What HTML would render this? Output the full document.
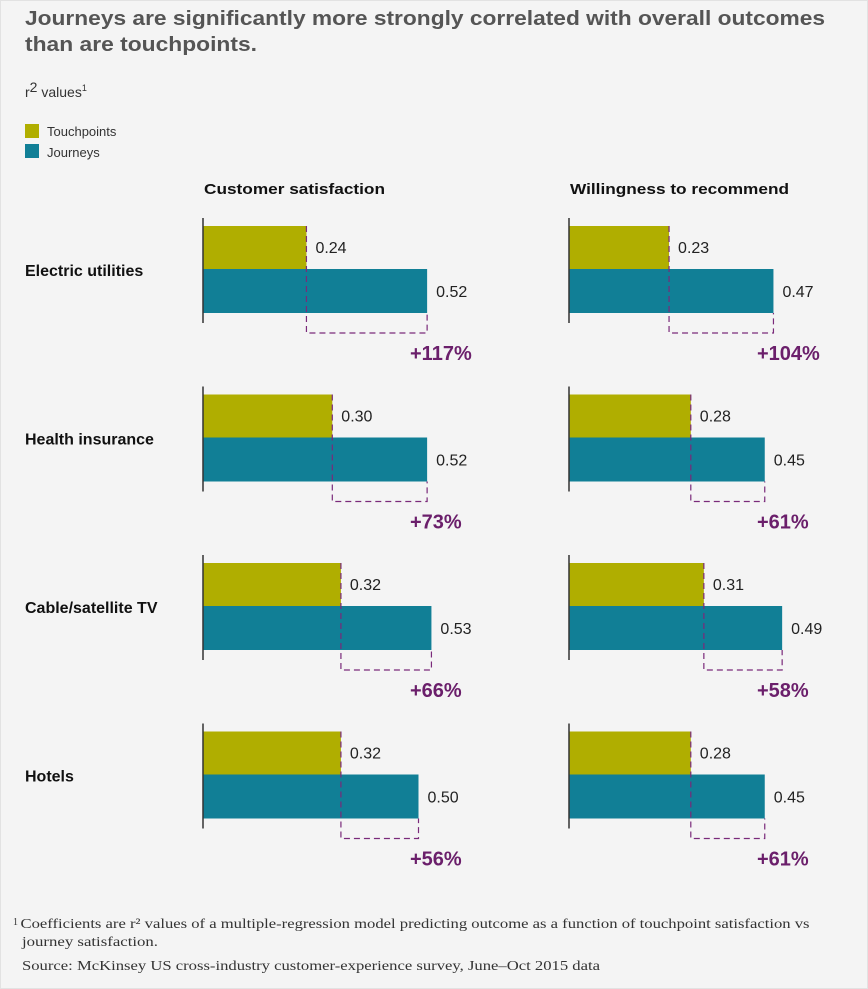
<!DOCTYPE html>
<html><head><meta charset="utf-8"><style>
body{margin:0;background:#f4f4f4;width:868px;height:989px;overflow:hidden;font-family:"Liberation Sans",Arial,sans-serif;}
</style></head><body>
<svg id="chart" width="868" height="989" xmlns="http://www.w3.org/2000/svg" style="position:absolute;left:0;top:0">
<rect x="0.5" y="0.5" width="867" height="988" fill="#f4f4f4" stroke="#e2e2e2"/>
<text x="25" y="25" font-size="20" font-weight="bold" fill="#555" textLength="800" lengthAdjust="spacingAndGlyphs">Journeys are significantly more strongly correlated with overall outcomes</text>
<text x="25" y="51" font-size="20" font-weight="bold" fill="#555" textLength="232" lengthAdjust="spacingAndGlyphs">than are touchpoints.</text>
<text x="25" y="97" font-size="14" fill="#333">r<tspan dy="-5" font-size="14">2</tspan><tspan dy="5"> values</tspan><tspan dy="-6" font-size="9">1</tspan></text>
<rect x="25" y="124" width="14" height="14" fill="#b0ae00"/>
<text x="47" y="136" font-size="13" fill="#333">Touchpoints</text>
<rect x="25" y="144" width="14" height="14" fill="#117f96"/>
<text x="47" y="157" font-size="13" fill="#333">Journeys</text>
<text x="204" y="194" font-size="15" font-weight="bold" fill="#111" textLength="181" lengthAdjust="spacingAndGlyphs">Customer satisfaction</text>
<text x="570" y="194" font-size="15" font-weight="bold" fill="#111" textLength="219" lengthAdjust="spacingAndGlyphs">Willingness to recommend</text>
<g id="marks"></g>
<text x="13" y="928" font-size="14" fill="#333" font-family="Liberation Serif,serif"><tspan font-size="10" dy="-3">1 </tspan><tspan dy="3" textLength="789" lengthAdjust="spacingAndGlyphs">Coefficients are r² values of a multiple-regression model predicting outcome as a function of touchpoint satisfaction vs</tspan></text>
<text x="22" y="946" font-size="14" fill="#333" font-family="Liberation Serif,serif" textLength="136" lengthAdjust="spacingAndGlyphs">journey satisfaction.</text>
<text x="22" y="970" font-size="14" fill="#333" font-family="Liberation Serif,serif" textLength="578" lengthAdjust="spacingAndGlyphs">Source: McKinsey US cross-industry customer-experience survey, June–Oct 2015 data</text>
</svg>
<script>
const categories = ["Electric utilities","Health insurance","Cable/satellite TV","Hotels"];
const satTouch = [0.24,0.30,0.32,0.32];
const satJourney = [0.52,0.52,0.53,0.50];
const satPct = ["+117%","+73%","+66%","+56%"];
const recTouch = [0.23,0.28,0.31,0.28];
const recJourney = [0.47,0.45,0.49,0.45];
const recPct = ["+104%","+61%","+58%","+61%"];
const NS="http://www.w3.org/2000/svg";
const g=document.getElementById('marks');
function mk(tag,attrs){const e=document.createElementNS(NS,tag);for(const k in attrs)e.setAttribute(k,attrs[k]);g.appendChild(e);return e;}
const panels=[{x0:203,scale:431,t:satTouch,j:satJourney,p:satPct,px:410},{x0:569,scale:435,t:recTouch,j:recJourney,p:recPct,px:757}];
function yTop(i){return 226+i*168.5;}
categories.forEach((c,i)=>{
  const y=yTop(i);
  const lab=mk('text',{x:25,y:y+50,'font-size':16,'font-weight':'bold',fill:'#111'});
  lab.textContent=c;
  
  
  panels.forEach(P=>{
    const xt=P.x0+P.t[i]*P.scale, xj=P.x0+P.j[i]*P.scale;
    const bt=mk('rect',{x:P.x0,y:y,width:xt-P.x0,height:43,fill:'#b0ae00'});
    
    
    const bj=mk('rect',{x:P.x0,y:y+43,width:xj-P.x0,height:44,fill:'#117f96'});
    
    
    const ax=mk('line',{x1:P.x0,y1:y-8,x2:P.x0,y2:y+97,stroke:'#333','stroke-width':1.5});
    
    
    const d=mk('path',{d:`M${xt},${y} V${y+107} H${xj} V${y+87}`,fill:'none',stroke:'#7a2a7a','stroke-width':1.2,'stroke-dasharray':'6,4'});
    
    
    const vt=mk('text',{x:xt+9,y:y+27,'font-size':16,fill:'#222'});vt.textContent=P.t[i].toFixed(2);
    
    
    const vj=mk('text',{x:xj+9,y:y+71,'font-size':16,fill:'#222'});vj.textContent=P.j[i].toFixed(2);
    
    
    const pt=mk('text',{x:P.px,y:y+134,'font-size':20,'font-weight':'bold',fill:'#6b1f6b'});pt.textContent=P.p[i];
    
    
  });
});
</script>
</body></html>
